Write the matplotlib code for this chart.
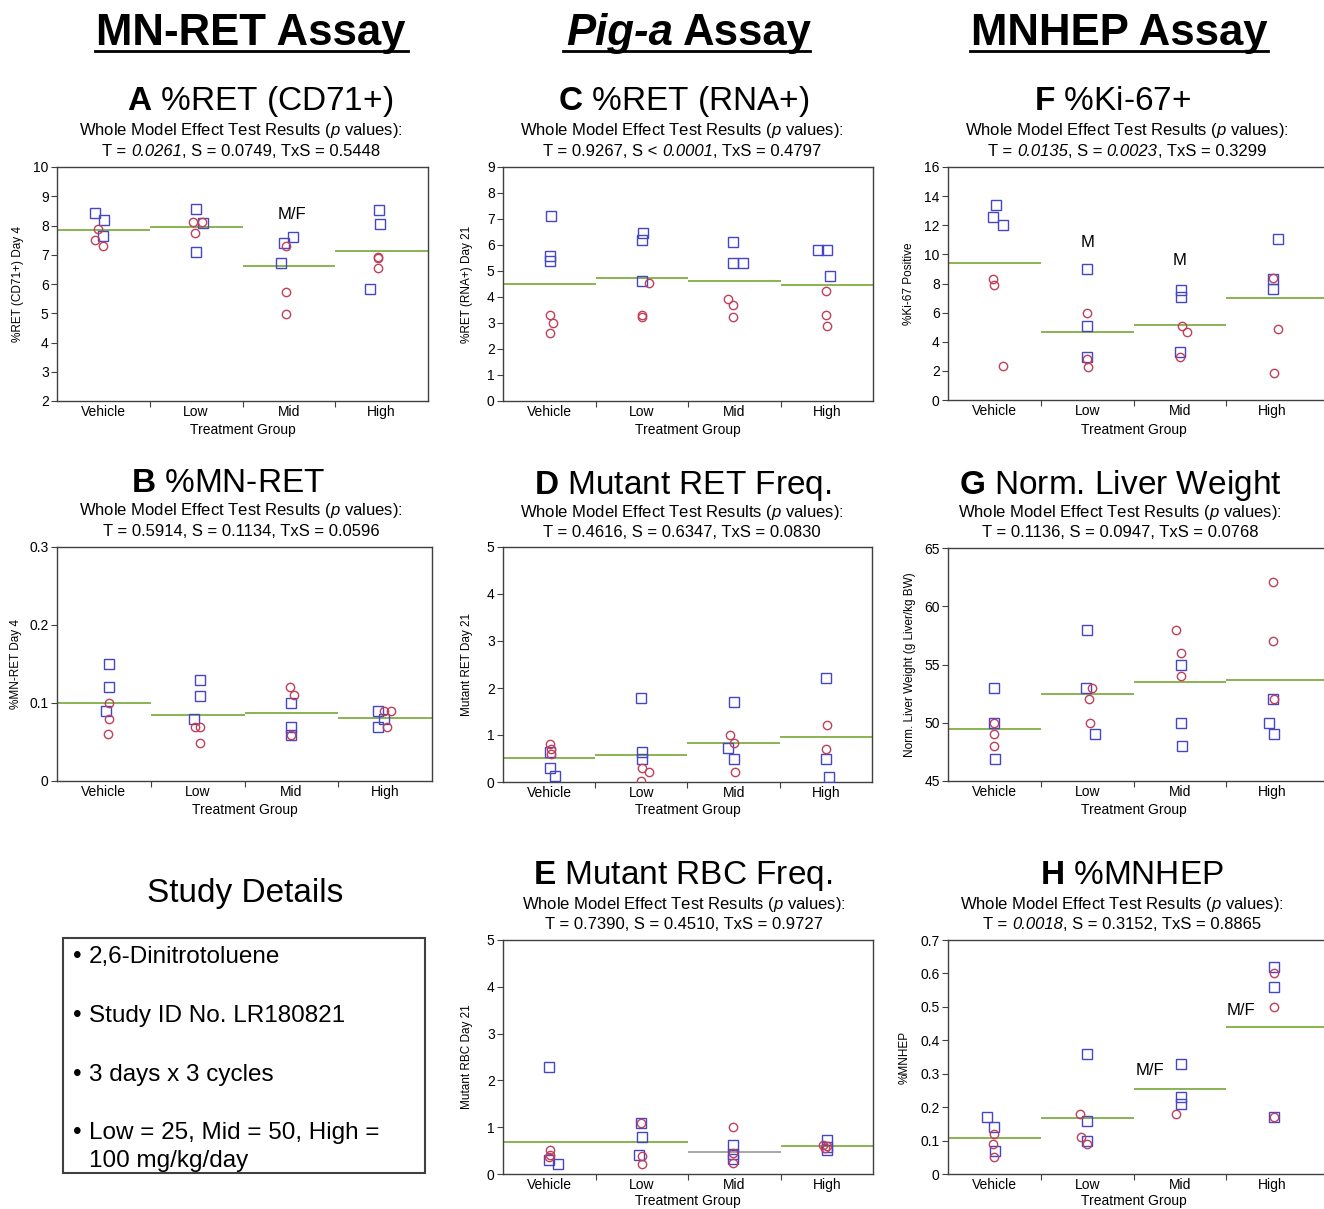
import numpy as np
import matplotlib
matplotlib.use("Agg")
import matplotlib.pyplot as plt
from matplotlib.lines import Line2D
from matplotlib.patches import Rectangle
from matplotlib.font_manager import FontProperties

plt.rcParams['font.family'] = ['Liberation Sans', 'DejaVu Sans']
plt.rcParams['mathtext.fontset'] = 'custom'
plt.rcParams['mathtext.rm'] = 'Liberation Sans'
plt.rcParams['mathtext.it'] = 'Liberation Sans:italic'
plt.rcParams['mathtext.bf'] = 'Liberation Sans:bold'

# ---------------- data ----------------
groups = ["Vehicle", "Low", "Mid", "High"]

# Panel A  %RET (CD71+) Day 4
A_male = [[8.44, 8.18, 7.64], [8.55, 8.10, 7.08], [7.59, 7.39, 6.71], [8.52, 8.05, 5.82]]
A_female = [[7.87, 7.50, 7.31], [8.13, 8.13, 7.75], [7.30, 5.72, 4.97], [6.94, 6.90, 6.56]]
A_mean = [7.84, 7.96, 6.62, 7.14]

# Panel C  %RET (RNA+) Day 21
C_male = [[7.12, 5.56, 5.40], [6.45, 6.19, 4.61], [6.13, 5.30, 5.30], [5.81, 5.81, 4.81]]
C_female = [[3.31, 2.99, 2.60], [4.52, 3.31, 3.22], [3.92, 3.71, 3.22], [4.23, 3.31, 2.89]]
C_mean = [4.50, 4.75, 4.62, 4.48]

# Panel F  %Ki-67 Positive
F_male = [[13.41, 12.56, 12.03], [8.98, 5.11, 2.97], [7.56, 7.10, 3.32], [11.05, 8.32, 7.61]]
F_female = [[8.32, 7.90, 2.33], [5.95, 2.79, 2.24], [5.11, 4.65, 2.97], [8.36, 4.85, 1.87]]
F_mean = [9.44, 4.65, 5.15, 7.03]

# Panel B  %MN-RET Day 4
B_male = [[0.150, 0.120, 0.090], [0.129, 0.109, 0.079], [0.100, 0.069, 0.059], [0.090, 0.069, 0.079]]
B_female = [[0.100, 0.079, 0.060], [0.069, 0.069, 0.049], [0.120, 0.110, 0.059], [0.090, 0.090, 0.069]]
B_mean = [0.100, 0.085, 0.087, 0.081]

# Panel D  Mutant RET Day 21
D_male = [[0.63, 0.30, 0.12], [1.79, 0.64, 0.50], [1.71, 0.73, 0.50], [2.22, 0.50, 0.11]]
D_female = [[0.80, 0.70, 0.60], [0.30, 0.21, 0.02], [1.01, 0.82, 0.21], [1.21, 0.70]]
D_mean = [0.52, 0.57, 0.83, 0.95]

# Panel G  Norm. Liver Weight
G_male = [[53.0, 50.0, 46.9], [58.0, 53.0, 49.0], [55.0, 50.0, 48.0], [52.0, 50.0, 49.0]]
G_female = [[50.0, 49.0, 48.0], [53.0, 52.0, 50.0], [58.0, 56.0, 54.0], [62.1, 57.0, 52.0]]
G_mean = [49.5, 52.5, 53.5, 53.7]

# Panel E  Mutant RBC Day 21
E_male = [[2.29, 0.30, 0.21], [1.10, 0.80, 0.41], [0.62, 0.43, 0.32], [0.73, 0.58, 0.51]]
E_female = [[0.51, 0.41, 0.37], [1.10, 0.39, 0.21], [1.01, 0.44, 0.23], [0.62, 0.60, 0.55]]
E_mean = [0.69, 0.68, 0.46, 0.60]

# Panel H  %MNHEP
H_male = [[0.17, 0.14, 0.07], [0.36, 0.16, 0.10], [0.33, 0.23, 0.21], [0.62, 0.56, 0.17]]
H_female = [[0.12, 0.09, 0.05], [0.18, 0.11, 0.09], [0.18], [0.60, 0.50, 0.17]]
H_mean = [0.109, 0.169, 0.253, 0.439]

# horizontal jitter of points within each group (category units)
A_jm = [[-0.09, 0.01, 0.0], [0.0, 0.07, 0.0], [0.04, -0.05, -0.09], [-0.03, -0.02, -0.13]]
A_jf = [[-0.06, -0.09, 0.0], [-0.03, 0.06, -0.01], [-0.03, -0.03, -0.03], [-0.04, -0.04, -0.04]]
C_jm = [[0.02, 0.01, 0.01], [0.01, 0.0, 0.0], [-0.01, -0.01, 0.09], [-0.09, 0.0, 0.04]]
C_jf = [[0.01, 0.04, 0.01], [0.08, 0.0, 0.0], [-0.07, -0.01, -0.01], [-0.01, -0.01, 0.0]]
F_jm = [[0.02, -0.02, 0.09], [0.0, 0.0, 0.0], [0.01, 0.01, 0.0], [0.06, 0.0, 0.0]]
F_jf = [[-0.02, 0.0, 0.09], [0.0, 0.0, 0.01], [0.02, 0.08, 0.0], [0.0, 0.06, 0.02]]
B_jm = [[0.05, 0.05, 0.02], [0.02, 0.02, -0.04], [0.0, 0.0, 0.0], [-0.08, -0.08, -0.01]]
B_jf = [[0.05, 0.05, 0.04], [-0.03, 0.02, 0.02], [-0.02, 0.03, 0.0], [-0.01, 0.06, 0.02]]
D_jm = [[0.01, 0.01, 0.06], [0.0, 0.01, 0.01], [0.0, -0.06, 0.0], [0.0, 0.0, 0.03]]
D_jf = [[0.01, 0.02, 0.02], [0.01, 0.08, 0.0], [-0.04, 0.0, 0.01], [0.01, 0.0]]
G_jm = [[0.0, 0.0, 0.01], [0.0, -0.01, 0.08], [0.01, 0.01, 0.02], [0.0, -0.04, 0.01]]
G_jf = [[0.0, 0.0, 0.0], [0.05, 0.02, 0.03], [-0.04, 0.01, 0.01], [0.0, 0.0, 0.01]]
E_jm = [[0.0, 0.0, 0.09], [-0.01, 0.0, -0.03], [-0.01, -0.01, -0.01], [0.0, 0.0, 0.0]]
E_jf = [[0.01, 0.01, 0.0], [-0.01, 0.0, 0.0], [-0.01, -0.01, -0.01], [-0.04, 0.0, -0.02]]
H_jm = [[-0.08, 0.0, 0.01], [0.0, 0.0, 0.0], [0.01, 0.01, 0.01], [0.01, 0.01, 0.02]]
H_jf = [[0.0, -0.01, 0.0], [-0.08, -0.07, 0.0], [-0.04], [0.02, 0.01, 0.02]]

# p-value lines: (text, italic?) pieces
A_p = [("T = ", False), ("0.0261", True), (", S = 0.0749, TxS = 0.5448", False)]
C_p = [("T = 0.9267, S < ", False), ("0.0001", True), (", TxS = 0.4797", False)]
F_p = [("T = ", False), ("0.0135", True), (", S = ", False), ("0.0023", True), (", TxS = 0.3299", False)]
B_p = [("T = 0.5914, S = 0.1134, TxS = 0.0596", False)]
D_p = [("T = 0.4616, S = 0.6347, TxS = 0.0830", False)]
G_p = [("T = 0.1136, S = 0.0947, TxS = 0.0768", False)]
E_p = [("T = 0.7390, S = 0.4510, TxS = 0.9727", False)]
H_p = [("T = ", False), ("0.0018", True), (", S = 0.3152, TxS = 0.8865", False)]

# ---------------- layout ----------------
W, Hpx = 1324, 1209
fig = plt.figure(figsize=(W / 100, Hpx / 100), dpi=100)
fig.patch.set_facecolor("white")
renderer = fig.canvas.get_renderer()


def fx(x):
    return x / W


def fy(y):
    return 1 - y / Hpx


def tw(s, size, style='normal'):
    fp = FontProperties(family=['Liberation Sans'], size=size, style=style)
    w, h, d = renderer.get_text_width_height_descent(s, fp, ismath=False)
    return w


def rich_line(cx, ybase, pieces, size):
    full = ''.join(s for s, _ in pieces)
    total = tw(full, size)
    x0 = cx - total / 2
    prefix = ''
    for s, it in pieces:
        off = (tw(prefix + 'x', size) - tw('x', size)) if prefix else 0.0
        fig.text(fx(x0 + off), fy(ybase), s, ha='left', va='baseline', fontsize=size,
                 fontstyle='italic' if it else 'normal')
        prefix += s


BLUE = "#4646c4"
RED = "#c0405a"
GREEN = "#7fae45"
SPINE = "#404040"


def make_panel(l, r, t, b, xmax, male, female, means, jm, jf, ylim, yticks, yticklabels,
               ylabel, ylabel_x, xlabel_y, line_colors=None):
    ax = fig.add_axes([fx(l), fy(b), (r - l) / W, (b - t) / Hpx])
    ax.set_xlim(-0.5, xmax)
    ax.set_ylim(*ylim)
    for i in range(4):
        x1 = i + 0.5 if i < 3 else xmax
        c = GREEN if line_colors is None else line_colors[i]
        ax.hlines(means[i], i - 0.5, x1, color=c, lw=1.3, zorder=1)
        ax.plot(i + np.array(jm[i]), male[i], 's', mfc='none', mec=BLUE, ms=7, mew=1.0, zorder=3)
        ax.plot(i + np.array(jf[i]), female[i], 'o', mfc='none', mec=RED, ms=6, mew=1.0, zorder=3)
    ax.set_xticks(range(4))
    ax.set_xticklabels(groups, fontsize=10)
    ax.set_xticks([0.5, 1.5, 2.5], minor=True)
    ax.tick_params(axis='x', which='major', length=0, pad=3)
    ax.tick_params(axis='x', which='minor', length=4, width=0.8, color=SPINE)
    ax.set_yticks(yticks)
    ax.set_yticklabels(yticklabels, fontsize=10)
    ax.tick_params(axis='y', length=4, width=0.8, pad=2, color=SPINE)
    for s in ax.spines.values():
        s.set_color(SPINE)
        s.set_linewidth(1.0)
    fig.text(fx(ylabel_x), fy((t + b) / 2), ylabel, rotation=90, ha='center', va='center', fontsize=8.5)
    cat_w = (r - l) / (xmax + 0.5)
    fig.text(fx(l + 2 * cat_w), fy(xlabel_y), "Treatment Group", ha='center', va='center', fontsize=10)
    return ax


def headers(cx, ty, letter, title, l1y, cx2, pieces):
    fig.text(fx(cx), fy(ty), r"$\bf{" + letter + "}$ " + title, ha='center', va='baseline', fontsize=24)
    fig.text(fx(cx2), fy(l1y), r"Whole Model Effect Test Results ($\it{p}$ values):",
             ha='center', va='center', fontsize=12)
    rich_line(cx2, l1y + 25, pieces, 12)


# Column headings
fig.text(fx(251), fy(45), "MN-RET Assay", ha='center', va='baseline', fontsize=31.5, fontweight='bold')
fig.text(fx(673), fy(45), "Pig-a", ha='right', va='baseline', fontsize=31.5, fontweight='bold', fontstyle='italic')
fig.text(fx(683), fy(45), "Assay", ha='left', va='baseline', fontsize=31.5, fontweight='bold')
fig.text(fx(1119), fy(45), "MNHEP Assay", ha='center', va='baseline', fontsize=31.5, fontweight='bold')
for x0, x1 in [(95, 408), (563, 810), (970, 1268)]:
    fig.add_artist(Line2D([fx(x0), fx(x1)], [fy(51), fy(51)], color='black', lw=2.0))

X34 = -0.5 + (1330 - 948) / 92.75

# Row 1
headers(260, 110, "A", "%RET (CD71+)", 131, 241, A_p)
axA = make_panel(57, 428, 167, 401, 3.5, A_male, A_female, A_mean, A_jm, A_jf, (2, 10),
                 range(2, 11), [str(v) for v in range(2, 11)], "%RET (CD71+) Day 4", 18, 430)
axA.text(2.03, 8.38, "M/F", ha='center', va='center', fontsize=12)

headers(684, 110, "C", "%RET (RNA+)", 131, 682, C_p)
make_panel(503, 873, 167, 401, 3.5, C_male, C_female, C_mean, C_jm, C_jf, (0, 9),
           range(0, 10), [str(v) for v in range(0, 10)], "%RET (RNA+) Day 21", 467, 430)

headers(1113, 110, "F", "%Ki-67+", 131, 1127, F_p)
axF = make_panel(948, 1330, 167, 400, X34, F_male, F_female, F_mean, F_jm, F_jf, (0, 16),
                 range(0, 17, 2), [str(v) for v in range(0, 17, 2)], "%Ki-67 Positive", 909, 430)
axF.text(1.0, 10.84, "M", ha='center', va='center', fontsize=12)
axF.text(2.0, 9.58, "M", ha='center', va='center', fontsize=12)

# Row 2
headers(228, 492, "B", "%MN-RET", 511, 241, B_p)
make_panel(57, 432, 547, 781, 3.5, B_male, B_female, B_mean, B_jm, B_jf, (0, 0.3),
           [0, 0.1, 0.2, 0.3], ["0", "0.1", "0.2", "0.3"], "%MN-RET Day 4", 16, 810)

headers(683, 494, "D", "Mutant RET Freq.", 512, 682, D_p)
make_panel(503, 872, 547, 782, 3.5, D_male, D_female, D_mean, D_jm, D_jf, (0, 5),
           range(0, 6), [str(v) for v in range(0, 6)], "Mutant RET Day 21", 467, 810)

headers(1120, 494, "G", "Norm. Liver Weight", 512, 1120, G_p)
make_panel(948, 1330, 548, 781, X34, G_male, G_female, G_mean, G_jm, G_jf, (45, 65),
           range(45, 66, 5), [str(v) for v in range(45, 66, 5)],
           "Norm. Liver Weight (g Liver/kg BW)", 910, 810)

# Row 3
headers(683, 884, "E", "Mutant RBC Freq.", 904, 684, E_p)
make_panel(503, 873, 940, 1174, 3.5, E_male, E_female, E_mean, E_jm, E_jf, (0, 5),
           range(0, 6), [str(v) for v in range(0, 6)], "Mutant RBC Day 21", 467, 1201,
           line_colors=[GREEN, GREEN, "#a0a0a0", GREEN])

headers(1132, 884, "H", "%MNHEP", 904, 1122, H_p)
axH = make_panel(948, 1330, 940, 1174, X34, H_male, H_female, H_mean, H_jm, H_jf, (0, 0.7),
                 [0, 0.1, 0.2, 0.3, 0.4, 0.5, 0.6, 0.7],
                 ["0", "0.1", "0.2", "0.3", "0.4", "0.5", "0.6", "0.7"], "%MNHEP", 905, 1201)
axH.text(1.68, 0.31, "M/F", ha='center', va='center', fontsize=12)
axH.text(2.66, 0.49, "M/F", ha='center', va='center', fontsize=12)

# Study details
fig.text(fx(245), fy(902), "Study Details", ha='center', va='baseline', fontsize=24)
fig.add_artist(Rectangle((fx(63), fy(1173)), (425 - 63) / W, (1173 - 938) / Hpx,
                         transform=fig.transFigure, fill=False, ec='#404040', lw=1.5))
details = [("2,6-Dinitrotoluene", 963), ("Study ID No. LR180821", 1022),
           ("3 days x 3 cycles", 1081), ("Low = 25, Mid = 50, High =", 1139)]
for s, yb in details:
    fig.text(fx(73), fy(yb), "\u2022", ha='left', va='baseline', fontsize=17.5)
    fig.text(fx(89), fy(yb), s, ha='left', va='baseline', fontsize=17.5)
fig.text(fx(89), fy(1167), "100 mg/kg/day", ha='left', va='baseline', fontsize=17.5)

fig.savefig("out.png", dpi=100, facecolor="white")
